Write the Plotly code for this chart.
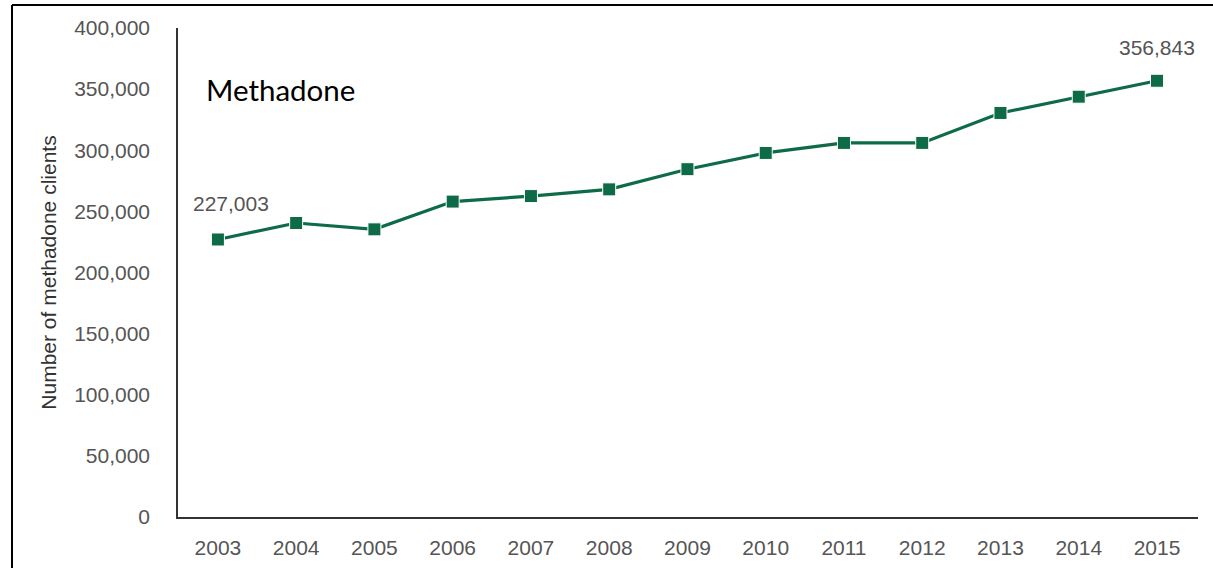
import plotly.graph_objects as go

years = [2003, 2004, 2005, 2006, 2007, 2008, 2009, 2010, 2011, 2012, 2013, 2014, 2015]
clients = [227003, 240500, 235300, 258000, 262500, 268000, 284500, 297800, 306000, 306000, 330500, 343800, 356843]
y_ticks = [0, 50000, 100000, 150000, 200000, 250000, 300000, 350000, 400000]
y_tick_text = ["0", "50,000", "100,000", "150,000", "200,000", "250,000", "300,000", "350,000", "400,000"]
series_name = "Methadone"
y_title = "Number of methadone clients"

green = "#0e6b47"
tick_font = dict(family="Liberation Sans, Arial, sans-serif", size=21, color="#555555")

fig = go.Figure()
fig.add_trace(go.Scatter(
    x=years, y=clients, mode="lines+markers",
    line=dict(color=green, width=3.2),
    marker=dict(symbol="square", size=13, color=green, line=dict(color="white", width=1)),
    showlegend=False, hoverinfo="x+y",
))

# value labels on first and last point
fig.add_annotation(x=years[0], y=clients[0], text=f"{clients[0]:,}", showarrow=False,
                   xanchor="center", yanchor="middle", yshift=36, xshift=13, font=tick_font)
fig.add_annotation(x=years[-1], y=clients[-1], text=f"{clients[-1]:,}", showarrow=False,
                   xanchor="center", yanchor="middle", yshift=33, font=tick_font)

# series label
fig.add_annotation(x=0.025, y=0.875, xref="paper", yref="paper", text=series_name, showarrow=False,
                   xanchor="left", yanchor="middle",
                   font=dict(family="Lato, Carlito, Calibri, sans-serif", size=29.5, color="#000000"))

# outer frame (top and left edges)
L, R, T = (12 - 178) / 1020, (1213 - 178) / 1020, (517 - 5) / 489
B = (517 - 568) / 489
fig.add_shape(type="line", xref="paper", yref="paper", x0=L, x1=R, y0=T, y1=T,
              line=dict(color="black", width=2))
fig.add_shape(type="line", xref="paper", yref="paper", x0=L, x1=L, y0=T, y1=B,
              line=dict(color="black", width=2))

fig.update_layout(
    width=1213, height=568,
    margin=dict(l=178, r=15, t=28, b=51),
    paper_bgcolor="white", plot_bgcolor="white",
    xaxis=dict(range=[2002.49, 2015.524], tickmode="array", tickvals=years,
               ticktext=[str(y) for y in years], showgrid=False, zeroline=False,
               showline=True, linecolor="#333333", linewidth=1.5, ticks="",
               ticklabelstandoff=11, tickfont=tick_font, automargin=False),
    yaxis=dict(range=[0, 400000], tickmode="array", tickvals=y_ticks, ticktext=y_tick_text,
               showgrid=False, zeroline=False, showline=True, linecolor="#333333",
               linewidth=1.5, ticks="", ticklabelstandoff=22, tickfont=tick_font, automargin=False,
               title=dict(text=y_title, standoff=12,
                          font=dict(family="Liberation Sans, Arial, sans-serif", size=21, color="#333333"))),
)

fig.write_html("out.html")
